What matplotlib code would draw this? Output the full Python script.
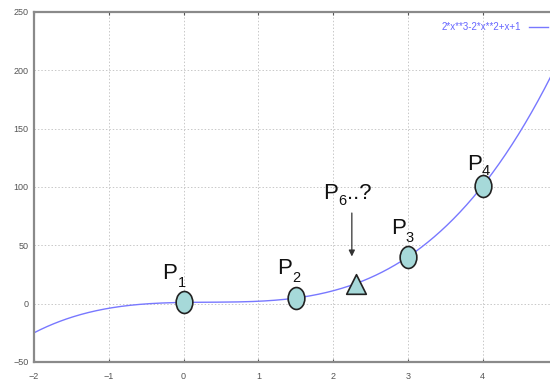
import numpy as np
import matplotlib
matplotlib.use("Agg")
import matplotlib.pyplot as plt
from matplotlib.path import Path
from matplotlib.transforms import Affine2D

plt.rcParams['font.family'] = ['Liberation Sans', 'DejaVu Sans']

# Curve: polynomial coefficients as given by the legend 2*x**3-2*x**2+x+1
coeffs = [2, -2, 1, 1]
legend_label = "2*x**3-2*x**2+x+1"
x_range = (-2, 4.93)

# Points
pt_subs = ["1", "2", "3", "4"]
pt_x = [0, 1.5, 3, 4]
pt_y = [1, 4.75, 40, 101]
tri_x = [2.3]
tri_y = [17]
tri_sub = "6"
tri_suffix = "..?"
arrow_x = 2.25
arrow_y = (80, 38)

xticks = [-2, -1, 0, 1, 2, 3, 4]
yticks = [-50, 0, 50, 100, 150, 200, 250]

fig = plt.figure(figsize=(5.5, 3.83), dpi=100)
ax = fig.add_axes([0.062, 0.055, 0.942, 0.914])

xs = np.linspace(x_range[0], x_range[1], 400)
ax.plot(xs, np.polyval(coeffs, xs), color='#7878ff', lw=1.0, label=legend_label, zorder=2)

ell = Path.unit_circle().transformed(Affine2D().scale(0.76, 1.0))
ax.scatter(pt_x, pt_y, marker=ell, s=250, facecolor='#a6d9d9', edgecolor='#222222', linewidths=1.2, zorder=4)
ax.scatter(tri_x, tri_y, marker='^', s=200, facecolor='#a6d9d9', edgecolor='#222222', linewidths=1.2, zorder=4)

PX = 0.72  # points per pixel at dpi 100


def plabel(x, y, dx_px, dy_px, sub, suffix="", sub_drop_px=8):
    kw = dict(xycoords='data', textcoords='offset points', va='baseline', ha='left', color='#111111')
    ax.annotate("P", (x, y), xytext=(dx_px * PX, dy_px * PX), fontsize=16, **kw)
    ax.annotate(sub, (x, y), xytext=((dx_px + 15) * PX, (dy_px - sub_drop_px) * PX), fontsize=10.5, **kw)
    if suffix:
        ax.annotate(suffix, (x, y), xytext=((dx_px + 23.5) * PX, dy_px * PX), fontsize=16, **kw)


offsets = [(-21, 23, 8), (-19, 24, 8), (-17, 23, 8), (-16, 16, 5)]
for lx, ly, sub, (dx, dy, dr) in zip(pt_x, pt_y, pt_subs, offsets):
    plabel(lx, ly, dx, dy, sub, sub_drop_px=dr)

plabel(tri_x[0], tri_y[0], -32, 85, tri_sub, tri_suffix, sub_drop_px=6)

ax.annotate("", xy=(arrow_x, arrow_y[1]), xytext=(arrow_x, arrow_y[0]),
            arrowprops=dict(arrowstyle='-|>', color='#333333', lw=0.9, mutation_scale=9))

ax.set_xlim(*x_range)
ax.set_ylim(-50, 250)
ax.set_xticks(xticks)
ax.set_yticks(yticks)
ax.grid(True, color='#c8c8c8', linestyle=(0, (1.5, 2)), lw=0.7)
ax.set_axisbelow(True)
ax.tick_params(labelsize=6.5, colors='#555555', length=2, direction='in', top=True)
ax.tick_params(axis='x', pad=7)
ax.tick_params(axis='y', length=0, pad=4)
for s in ['left', 'top', 'bottom']:
    ax.spines[s].set_color('#8a8a8a')
    ax.spines[s].set_linewidth(1.6)
ax.spines['right'].set_visible(False)

leg = ax.legend(loc='upper right', bbox_to_anchor=(1.004, 0.988), frameon=False, fontsize=7,
                markerfirst=False, handlelength=2.0, handletextpad=0.8, borderaxespad=0.2)
for t in leg.get_texts():
    t.set_color('#6666ff')

fig.savefig("out.png", dpi=100)
